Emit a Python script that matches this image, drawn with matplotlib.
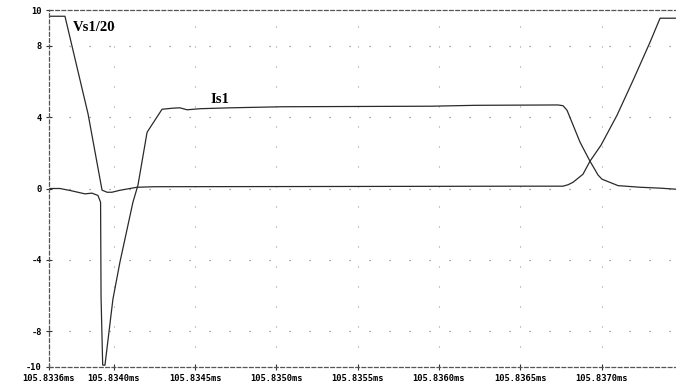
import matplotlib
matplotlib.use("Agg")
import matplotlib.pyplot as plt

# Time axis: offset in ns from 105.8336 ms
vs_t = [0, 100, 242, 328, 359, 389, 438, 543, 654, 1546, 2942, 3163, 3194,
        3225, 3286, 3329, 3397, 3495, 3594, 3698, 3760, 3858]
vs_v = [9.65, 9.65, 4.18, -0.09, -0.21, -0.21, -0.10, 0.07, 0.10, 0.11, 0.13,
        0.13, 0.21, 0.35, 0.80, 1.53, 2.43, 4.10, 6.06, 8.19, 9.54, 9.54]

is_t = [0, 69, 131, 223, 266, 303, 319, 322, 332, 346, 395, 438, 518, 549,
        605, 697, 764, 807, 851, 931, 1116, 1441, 2351, 2622, 3132, 3163,
        3188, 3268, 3329, 3379, 3403, 3502, 3637, 3760, 3858]
is_v = [0.0, 0.0, -0.11, -0.30, -0.26, -0.39, -0.77, -6.09, -9.89, -9.9,
        -6.2, -4.13, -0.77, 0.19, 3.15, 4.44, 4.50, 4.52, 4.41, 4.47, 4.52,
        4.58, 4.61, 4.66, 4.68, 4.64, 4.38, 2.59, 1.53, 0.75, 0.52, 0.16,
        0.07, 0.02, -0.04]

x_ticks = [0, 400, 900, 1400, 1900, 2400, 2900, 3400]
x_labels = ["105.8336ms", "105.8340ms", "105.8345ms", "105.8350ms",
            "105.8355ms", "105.8360ms", "105.8365ms", "105.8370ms"]
y_ticks = [-10, -8, -4, 0, 4, 8, 10]
y_grid = [-8, -4, 0, 4, 8]

fig = plt.figure(figsize=(6.76, 3.91), dpi=100)
ax = fig.add_axes([48.7 / 676, 24 / 391, 1 - 48.7 / 676, (367 - 10) / 391])

line_kw = dict(color="#2a2a2a", linewidth=0.9)
ax.plot(vs_t, vs_v, **line_kw)
ax.plot(is_t, is_v, **line_kw)

ax.set_xlim(0, 3858)
ax.set_ylim(-10, 10)

# sparse dotted grid
for yv in y_grid:
    ax.axhline(yv, color="#888888", linewidth=0.9, linestyle=(0, (1, 15)), zorder=0)
for xv in x_ticks[1:]:
    ax.axvline(xv, color="#999999", linewidth=0.8, linestyle=(0, (1, 17)), zorder=0)

for side in ("left", "top", "bottom"):
    ax.spines[side].set_linestyle((0, (3, 2)))
    ax.spines[side].set_color("#555555")
    ax.spines[side].set_linewidth(0.9)
ax.spines["right"].set_visible(False)

mono = dict(family="DejaVu Sans Mono", weight="bold", size=6.3)
ax.set_xticks(x_ticks)
ax.set_xticklabels(x_labels, fontdict=mono)
ax.set_yticks(y_ticks)
ax.set_yticklabels([str(v) for v in y_ticks], fontdict=mono)
ax.tick_params(axis="both", direction="inout", length=4, width=0.8,
               color="#333333", pad=3)

serif = dict(family="Liberation Serif", weight="bold", size=10.5)
ax.text(151, 9.0, "Vs1/20", ha="left", va="center", **serif)
ax.text(1052, 5.0, "Is1", ha="center", va="center", **serif)

fig.savefig("out.png", dpi=100)
